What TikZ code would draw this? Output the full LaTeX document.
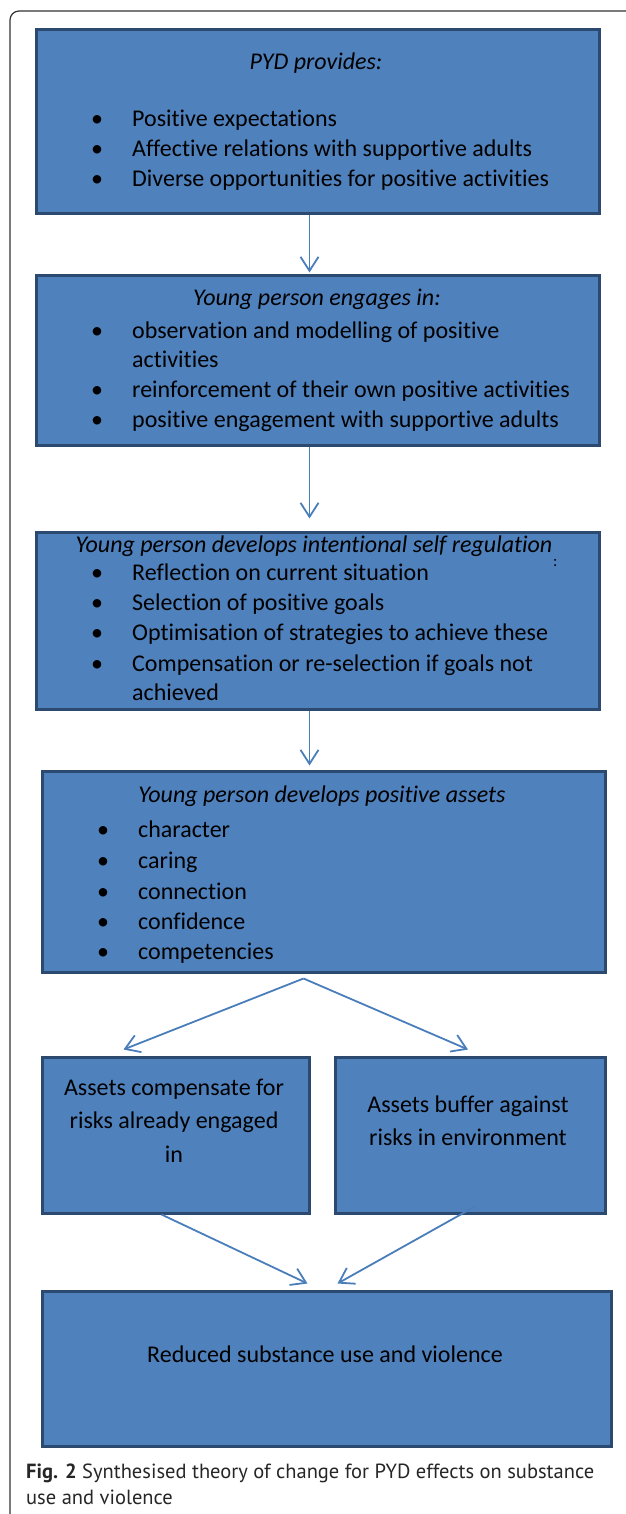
\documentclass[tikz,border=0pt]{standalone}
\usepackage{fontspec}
\setmainfont{Carlito}[Ligatures=NoCommon]
\newfontfamily\capfont{PT Sans}
\usetikzlibrary{arrows.meta}
\definecolor{boxblue}{RGB}{79,129,189}
\definecolor{boxedge}{RGB}{44,74,112}
\definecolor{arrowblue}{RGB}{74,126,187}
\begin{document}
\begin{tikzpicture}[x=1pt,y=-1pt,>={Straight Barb[length=14pt,width=18pt]},font=\fontsize{24}{30}\selectfont,
   box/.style={draw=boxedge,fill=boxblue,line width=3pt,anchor=north west,inner sep=0pt},
   lbl/.style={anchor=base west,inner sep=0pt},
   mid/.style={anchor=base,inner sep=0pt},
   link/.style={->,draw=arrowblue,line width=1.8pt}]
   \useasboundingbox (0,0) rectangle (625,1514);
   \draw[line width=1.2pt,draw=black!80,rounded corners=9pt] (640,11) -- (10,11) -- (10,1530);
   \node[box,minimum width=563pt,minimum height=184pt] (provides) at (34.5,28.5) {};
   \node[box,minimum width=563pt,minimum height=170pt] (engages) at (34.5,273.5) {};
   \node[box,minimum width=563pt,minimum height=177pt] (regulation) at (34.5,530.5) {};
   \node[box,minimum width=563pt,minimum height=201pt] (assets) at (40.5,769.5) {};
   \node[box,minimum width=267pt,minimum height=156pt] (compensate) at (40.5,1055.5) {};
   \node[box,minimum width=270pt,minimum height=156pt] (buffer) at (333.5,1055.5) {};
   \node[box,minimum width=569pt,minimum height=155pt] (reduced) at (40.5,1289.5) {};
   \node[mid] (providesT) at (316,70) {\textit{PYD provides:}};
   \foreach \n/\y/\t in {a/127/Positive expectations,b/157/Affective relations with supportive adults,c/187/Diverse opportunities for positive activities}
      {\node[mid] (providesB\n) at (97,\y) {•}; \node[lbl] (providesI\n) at (132,\y) {\t};}
   \node[mid] (engagesT) at (317,305) {\textit{Young person engages in:}};
   \foreach \n/\y/\t in {a/338/observation and modelling of positive,b/397/reinforcement of their own positive activities,c/427/positive engagement with supportive adults}
      {\node[mid] (engagesB\n) at (97,\y) {•}; \node[lbl] (engagesI\n) at (132,\y) {\t};}
   \node[lbl] (engagesIa2) at (132,367) {activities};
   \node[mid] (regulationT) at (314,552) {\textit{Young person develops intentional self regulation}};
   \node[lbl,font=\fontsize{16}{18}\selectfont] (regulationC) at (553,566) {:};
   \foreach \n/\y/\t in {a/580/Reflection on current situation,b/610/Selection of positive goals,c/640/Optimisation of strategies to achieve these,d/671/Compensation or re-selection if goals not}
      {\node[mid] (regulationB\n) at (97,\y) {•}; \node[lbl] (regulationI\n) at (132,\y) {\t};}
   \node[lbl] (regulationId2) at (132,700) {achieved};
   \node[mid] (assetsT) at (322,802) {\textit{Young person develops positive assets}};
   \foreach \n/\y/\t in {a/837/character,b/868/caring,c/899/connection,d/929/confidence,e/959/competencies}
      {\node[mid] (assetsB\n) at (103,\y) {•}; \node[lbl] (assetsI\n) at (138,\y) {\t};}
   \node[mid] (compensateA) at (174,1095) {Assets compensate for};
   \node[mid] (compensateB) at (174,1128) {risks already engaged};
   \node[mid] (compensateC) at (174,1162) {in};
   \node[mid] (bufferA) at (468,1112) {Assets buffer against};
   \node[mid] (bufferB) at (468,1145) {risks in environment};
   \node[mid] (reducedT) at (325,1362) {Reduced substance use and violence};
   \node[lbl,font=\capfont\fontsize{20.5}{26}\selectfont,text=black!85] (capA) at (26,1478) {\textbf{Fig. 2} Synthesised theory of change for PYD effects on substance};
   \node[lbl,font=\capfont\fontsize{20.5}{26}\selectfont,text=black!85] (capB) at (26,1504) {use and violence};
   \coordinate (split) at ([xshift=-20pt,yshift=-5pt]assets.south);
   \draw[link] ([xshift=-8pt]provides.south) -- ([xshift=-8pt,yshift=1pt]engages.north);
   \draw[link] ([xshift=-8pt]engages.south) -- ([xshift=-8pt,yshift=12pt]regulation.north);
   \draw[link] ([xshift=-8pt]regulation.south) -- ([xshift=-14pt,yshift=4pt]assets.north);
   \draw[link] (split) -- ([xshift=-52pt,yshift=6pt]compensate.north);
   \draw[link] (split) -- ([xshift=-2pt,yshift=6pt]buffer.north);
   \draw[link] ([xshift=-14pt]compensate.south) -- ([xshift=-19pt,yshift=6pt]reduced.north);
   \draw[link] ([xshift=5pt,yshift=8pt]buffer.south) -- ([xshift=11pt,yshift=6pt]reduced.north);
\end{tikzpicture}
\end{document}
